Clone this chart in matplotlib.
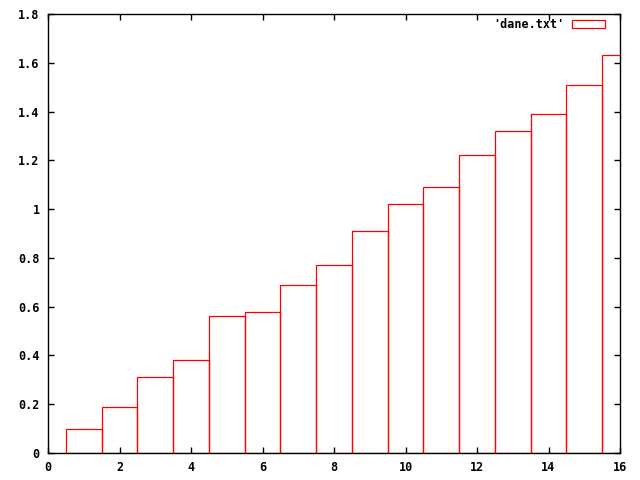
import numpy as np
import matplotlib.pyplot as plt

# data
x = np.arange(1, 17)
y = np.array([0.10, 0.19, 0.31, 0.38, 0.56, 0.58, 0.69, 0.77,
              0.91, 1.02, 1.09, 1.22, 1.32, 1.39, 1.51, 1.63])
xticks = [0, 2, 4, 6, 8, 10, 12, 14, 16]
yticks = [0, 0.2, 0.4, 0.6, 0.8, 1, 1.2, 1.4, 1.6, 1.8]
ylabels = ["0", "0.2", "0.4", "0.6", "0.8", "1", "1.2", "1.4", "1.6", "1.8"]

plt.rcParams['font.family'] = 'DejaVu Sans Mono'
plt.rcParams['font.weight'] = 'bold'
plt.rcParams['font.size'] = 8.5

fig = plt.figure(figsize=(6.4, 4.8), dpi=100)
ax = fig.add_axes([48/640, 1-453/480, 572/640, 439/480])
ax.bar(x, y, width=1, fill=False, edgecolor='red', linewidth=0.9, label="'dane.txt'")
ax.set_xlim(0, 16)
ax.set_ylim(0, 1.8)
ax.set_xticks(xticks)
ax.set_xticklabels([str(t) for t in xticks])
ax.set_yticks(yticks)
ax.set_yticklabels(ylabels)
ax.tick_params(direction='in', length=4, width=1, top=True, right=True, pad=6)
for s in ax.spines.values():
    s.set_linewidth(1)
    s.set_zorder(5)

ax.legend(loc='upper right', frameon=False, markerfirst=False,
          handlelength=2.8, handleheight=0.6, handletextpad=0.6,
          borderaxespad=0, borderpad=0,
          bbox_to_anchor=((605-48)/572, (453-18)/439), fontsize=8.5)

fig.savefig("out.png", dpi=100)
